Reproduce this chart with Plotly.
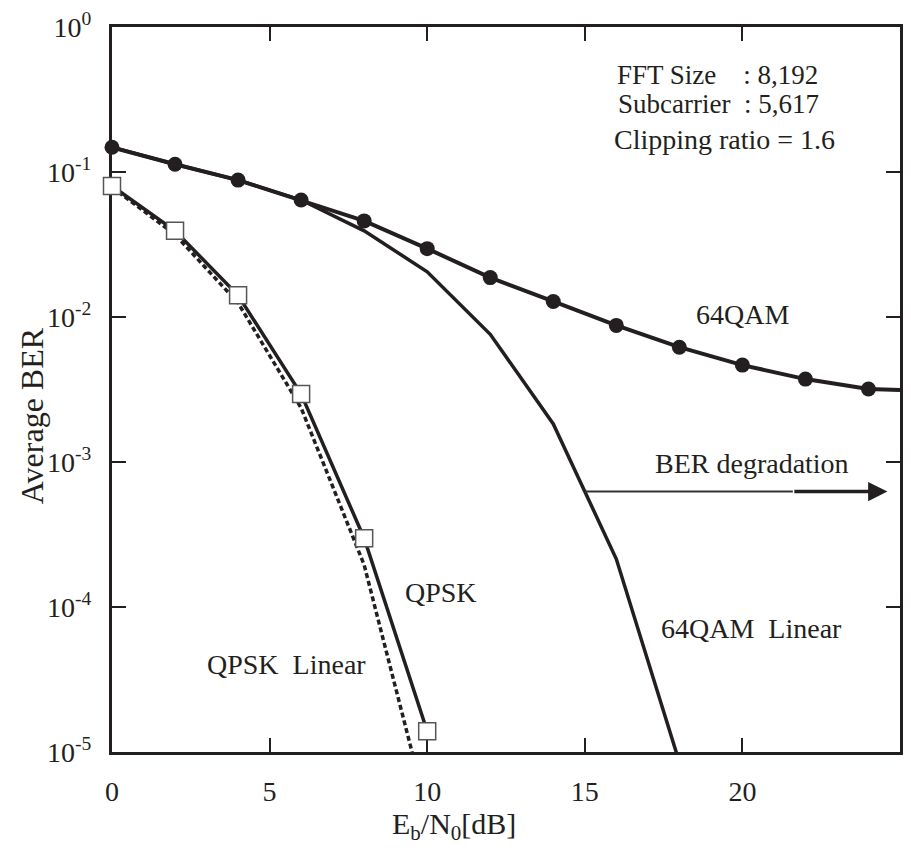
import numpy as np
import plotly.graph_objects as go

# ---------------- data ----------------
qam_x = [0, 2, 4, 6, 8, 10, 12, 14, 16, 18, 20, 22, 24, 25]
qam_y = [0.148, 0.113, 0.0879, 0.0641, 0.0460, 0.0296, 0.0187, 0.0128,
         0.00875, 0.00619, 0.00466, 0.00373, 0.00319, 0.00314]
qam_marker_x = [0, 2, 4, 6, 8, 10, 12, 14, 16, 18, 20, 22, 24]
qam_marker_y = [0.148, 0.113, 0.0879, 0.0641, 0.0460, 0.0296, 0.0187, 0.0128,
                0.00875, 0.00619, 0.00466, 0.00373, 0.00319]

qam_lin_x = [0, 2, 4, 6, 8, 10, 12, 14, 16, 18]
qam_lin_y = [0.148, 0.113, 0.0879, 0.0641, 0.0393, 0.0205, 0.0076, 0.00183,
             0.000214, 8.5e-6]

qpsk_x = [0, 2, 4, 6, 8, 10]
qpsk_y = [0.080, 0.0393, 0.0141, 0.00294, 0.000298, 1.39e-5]

qpsk_lin_x = [0, 2, 4, 6, 8, 10]
qpsk_lin_y = [0.0786, 0.0370, 0.0125, 0.00236, 0.000195, 3.9e-6]

# BER degradation arrow (x start on 64QAM Linear curve, thick part, tip)
arrow_x = [15.0, 21.6, 24.6]
arrow_y = 6.26e-4

x_ticks = [0, 5, 10, 15, 20, 25]
y_tickvals = [1, 1e-1, 1e-2, 1e-3, 1e-4, 1e-5]
y_ticktext = ["10<sup>0</sup>", "10<sup>-1</sup>", "10<sup>-2</sup>",
              "10<sup>-3</sup>", "10<sup>-4</sup>", "10<sup>-5</sup>"]

INK = "#231f20"
FONT = "Liberation Serif"

# plot-area geometry in pixels (used only to place free text in paper units)
PL, PT, PW, PH = 112, 23, 791, 729


def px(xp):
    return (xp - PL) / PW


def py(yp):
    return 1 - (yp - PT) / PH


fig = go.Figure()

# QPSK Linear (dashed)
fig.add_trace(go.Scatter(x=qpsk_lin_x, y=qpsk_lin_y, mode="lines",
                         line=dict(color=INK, width=3.5, dash="5px,3px"),
                         hoverinfo="skip"))
# 64QAM Linear
fig.add_trace(go.Scatter(x=qam_lin_x, y=qam_lin_y, mode="lines",
                         line=dict(color=INK, width=3.5), hoverinfo="skip"))
# 64QAM
fig.add_trace(go.Scatter(x=qam_x, y=qam_y, mode="lines",
                         line=dict(color=INK, width=4), hoverinfo="skip"))
fig.add_trace(go.Scatter(x=qam_marker_x, y=qam_marker_y, mode="markers",
                         marker=dict(symbol="circle", size=15, color=INK),
                         cliponaxis=False, hoverinfo="skip"))
# QPSK
fig.add_trace(go.Scatter(x=qpsk_x, y=qpsk_y, mode="lines",
                         line=dict(color=INK, width=3.5), hoverinfo="skip"))
fig.add_trace(go.Scatter(x=qpsk_x, y=qpsk_y, mode="markers",
                         marker=dict(symbol="square", size=17, color="white",
                                     line=dict(color="#555555", width=1.5)),
                         cliponaxis=False, hoverinfo="skip"))

# thin part of the BER degradation arrow
fig.add_trace(go.Scatter(x=arrow_x[:2], y=[arrow_y, arrow_y], mode="lines",
                         line=dict(color="#333333", width=2), hoverinfo="skip"))

ly = np.log10(arrow_y)
annotations = [
    dict(x=arrow_x[2], y=ly, ax=arrow_x[1], ay=ly, xref="x", yref="y",
         axref="x", ayref="y", showarrow=True, arrowhead=2, arrowsize=1.1,
         arrowwidth=3.5, arrowcolor=INK, text=""),
]


def label(text, x, y, anchor="center", size=28):
    return dict(x=x, y=y, xref="x", yref="y", text=text, showarrow=False,
                xanchor=anchor, yanchor="middle",
                font=dict(family=FONT, size=size, color=INK))


def note(text, xp, yp, size=27, anchor="left", angle=0):
    return dict(x=px(xp), y=py(yp), xref="paper", yref="paper", text=text,
                showarrow=False, xanchor=anchor, yanchor="middle",
                textangle=angle, font=dict(family=FONT, size=size, color=INK))


annotations += [
    label("64QAM", 20.0, np.log10(0.0104)),
    label("BER degradation", 20.3, np.log10(9.75e-4)),
    label("64QAM\u00a0\u00a0Linear", 20.3, np.log10(7.1e-5)),
    label("QPSK", 10.44, np.log10(1.25e-4)),
    label("QPSK\u00a0\u00a0Linear", 5.55, np.log10(4.0e-5)),
    note("FFT Size\u00a0\u00a0\u00a0\u00a0: 8,192", 617, 71),
    note("Subcarrier\u00a0\u00a0: 5,617", 618, 100),
    note("Clipping ratio = 1.6", 614, 136, size=28),
    note("E<sub>b</sub>/N<sub>0</sub>[dB]", 455, 826, size=30, anchor="center"),
    note("Average BER", 32, 414, size=32, anchor="center", angle=-90),
]

axis_common = dict(showgrid=False, zeroline=False, showline=True, linewidth=3,
                   linecolor=INK, mirror="ticks", ticks="inside", ticklen=14,
                   tickwidth=1.5, tickcolor=INK, layer="below traces",
                   tickfont=dict(family=FONT, size=28, color=INK))

fig.update_layout(
    width=911, height=852,
    margin=dict(l=PL, r=911 - PL - PW, t=PT, b=852 - PT - PH),
    paper_bgcolor="white", plot_bgcolor="white",
    showlegend=False,
    annotations=annotations,
    font=dict(family=FONT, size=26, color=INK),
    xaxis=dict(range=[0, 25], tickvals=x_ticks, ticklabelstandoff=12,
               **axis_common),
    yaxis=dict(type="log", range=[-5, 0], tickvals=y_tickvals,
               ticktext=y_ticktext, ticklabelstandoff=12, **axis_common),
)

fig.write_html("out.html")
